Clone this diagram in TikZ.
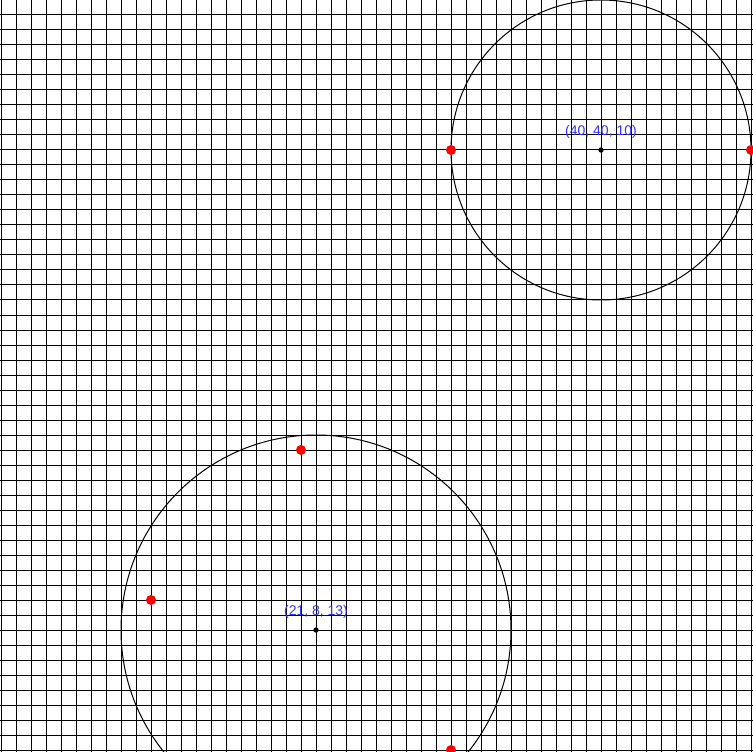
\documentclass[tikz,border=0pt]{standalone}
\usepackage{fontspec}
\setmainfont{Liberation Sans}
\definecolor{lbl}{RGB}{50,50,255}
\definecolor{pt}{RGB}{255,0,0}
\begin{document}
\begin{tikzpicture}[x=0.75pt,y=-0.75pt,
  gridline/.style={black,line width=0.75pt},
  ring/.style={black,line width=0.75pt},
  redpt/.style={circle,fill=pt,inner sep=0pt,minimum size=7.5pt},
  ctr/.style={circle,fill=black,inner sep=0pt,minimum size=4pt},
  lab/.style={text=lbl,font=\fontsize{10.5pt}{12pt}\selectfont,inner sep=0pt}]
\useasboundingbox (0,0) rectangle (753,752);
\clip (0,0) rectangle (753,752);
\fill[white] (0,0) rectangle (753,752);
\foreach \k in {0,...,50} {
  \draw[gridline] ({1+15*\k},0) -- ({1+15*\k},752);
  \draw[gridline] (0,{15*\k}) -- (753,{15*\k});
}
% circle 1: (40,40,10)
\coordinate (c1) at (601,150);
\draw[ring] (c1) circle[radius=150];
\node[ctr] (d1) at (c1) {};
\node[lab] (l1) at (601,131.5) {(40, 40, 10)};
% circle 2: (21,8,13)
\coordinate (c2) at (316,630);
\draw[ring] (c2) circle[radius=195];
\node[ctr] (d2) at (c2) {};
\node[lab] (l2) at (316,611.5) {(21, 8, 13)};
% red points
\node[redpt] (p1) at (451,150) {};
\node[redpt] (p2) at (751,150) {};
\node[redpt] (p3) at (301,450) {};
\node[redpt] (p4) at (151,600) {};
\node[redpt] (p5) at (451,750) {};
\end{tikzpicture}
\end{document}
